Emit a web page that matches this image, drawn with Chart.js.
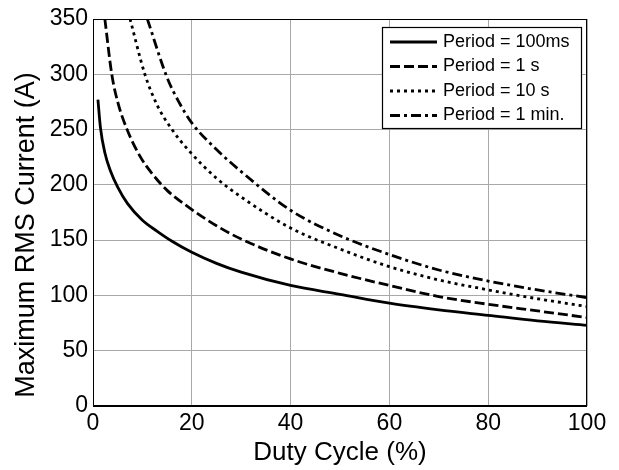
<!DOCTYPE html>
<html lang="en">
<head>
    <meta charset="UTF-8">
    <title>Maximum RMS Current vs Duty Cycle</title>
    <script src="https://cdn.jsdelivr.net/npm/chart.js"></script>
    <style>
        html, body { margin: 0; padding: 0; background: #fff; }
        #wrap { width: 619px; height: 470px; }
    </style>
</head>
<body>
    <div id="wrap"><canvas id="dutyChart"></canvas></div>

    <script>
        // values
        const seriesLabels = ['Period = 100ms', 'Period = 1 s', 'Period = 10 s', 'Period = 1 min.'];

        const duty100ms = [1, 1.5, 2.4, 3.5, 5, 7, 10, 13, 16, 20, 25, 30, 40, 50, 60, 70, 80, 90, 100];
        const current100ms = [277, 252, 229, 213, 198, 183, 168, 158, 149, 139, 129, 121, 109, 101, 93, 87, 82, 77, 73];

        const duty1s = [2.4, 3.8, 5, 6.9, 9.5, 12, 15, 19.6, 25, 30, 40, 50, 60, 70, 80, 90, 100];
        const current1s = [350, 300, 275, 250, 226, 210, 195, 179, 163, 151, 133, 120, 109, 99, 92, 86, 80];

        const duty10s = [7.5, 10.5, 13, 16, 19.6, 25, 30, 40, 50, 60, 70, 80, 90, 100];
        const current10s = [350, 300, 272, 250, 230, 206, 189, 161, 142, 126, 114, 105, 97, 90];

        const duty1min = [11, 15, 17.5, 20, 25, 30, 40, 50, 60, 70, 80, 90, 100];
        const current1min = [350, 297, 274, 256, 232, 212, 177, 154, 137, 123, 113, 105, 98];

        const xTicks = [0, 20, 40, 60, 80, 100];
        const yTicks = [0, 50, 100, 150, 200, 250, 300, 350];

        const FONT = "'Liberation Sans', Arial, sans-serif";

        function pairs(xs, ys) {
            return xs.map((x, i) => ({ x: x, y: ys[i] }));
        }

        function lineSet(label, xs, ys, dash) {
            return {
                label: label,
                data: pairs(xs, ys),
                borderColor: '#000',
                borderWidth: 2.8,
                borderDash: dash,
                pointRadius: 0,
                fill: false,
                cubicInterpolationMode: 'monotone'
            };
        }

        // black frame round the plot area
        const framePlugin = {
            id: 'frame',
            afterDatasetsDraw(chart) {
                const a = chart.chartArea, ctx = chart.ctx;
                ctx.save();
                ctx.strokeStyle = '#000';
                ctx.lineWidth = 1;
                ctx.strokeRect(a.left + 0.5, a.top + 0.5, a.right - a.left - 1, a.bottom - a.top);
                ctx.lineWidth = 2;
                ctx.beginPath();
                ctx.moveTo(a.left, a.bottom);
                ctx.lineTo(a.right, a.bottom);
                ctx.stroke();
                ctx.restore();
            }
        };

        // boxed legend in the top right corner, MATLAB style
        const boxLegend = {
            id: 'boxLegend',
            afterDraw(chart) {
                const ctx = chart.ctx;
                const a = chart.chartArea;
                const sets = chart.data.datasets;
                const right = a.right - 6, top = a.top + 8;
                const w = 199, rowH = 24.5, h = 101;
                const left = right - w;
                ctx.save();
                ctx.fillStyle = '#fff';
                ctx.fillRect(left, top, w, h);
                ctx.strokeStyle = '#000';
                ctx.lineWidth = 1.2;
                ctx.strokeRect(left + 0.5, top + 0.5, w, h);
                ctx.font = '18px ' + FONT;
                ctx.textBaseline = 'middle';
                sets.forEach((ds, i) => {
                    const y = top + 15 + i * rowH;
                    ctx.strokeStyle = ds.borderColor;
                    ctx.lineWidth = ds.borderWidth;
                    ctx.setLineDash(ds.borderDash || []);
                    ctx.beginPath();
                    ctx.moveTo(left + 8, y);
                    ctx.lineTo(left + 55, y);
                    ctx.stroke();
                    ctx.setLineDash([]);
                    ctx.fillStyle = '#000';
                    ctx.fillText(ds.label, left + 61, y);
                });
                ctx.restore();
            }
        };

        const ctx = document.getElementById('dutyChart').getContext('2d');
        const chart = new Chart(ctx, {
            type: 'line',
            data: {
                datasets: [
                    lineSet(seriesLabels[0], duty100ms, current100ms, []),
                    lineSet(seriesLabels[1], duty1s, current1s, [10, 4]),
                    lineSet(seriesLabels[2], duty10s, current10s, [3, 4]),
                    lineSet(seriesLabels[3], duty1min, current1min, [10, 4, 3, 4])
                ]
            },
            options: {
                responsive: true,
                maintainAspectRatio: false,
                animation: false,
                layout: { padding: { left: 0, right: 32, top: 19, bottom: 0 } },
                plugins: {
                    legend: { display: false },
                    tooltip: { enabled: false }
                },
                scales: {
                    x: {
                        type: 'linear',
                        min: 0,
                        max: 100,
                        afterBuildTicks: (s) => { s.ticks = xTicks.map(v => ({ value: v })); },
                        afterFit: (s) => { s.height = 64; },
                        ticks: { color: '#000', font: { family: FONT, size: 23 }, padding: 4, maxRotation: 0 },
                        grid: { color: '#a8a8a8', lineWidth: 1, drawTicks: false },
                        border: { display: false },
                        title: {
                            display: true,
                            text: 'Duty Cycle (%)',
                            color: '#000',
                            font: { family: FONT, size: 26 },
                            padding: { top: 0, bottom: 2 }
                        }
                    },
                    y: {
                        min: 0,
                        max: 350,
                        afterBuildTicks: (s) => { s.ticks = yTicks.map(v => ({ value: v })); },
                        afterFit: (s) => { s.width = 93; },
                        ticks: { color: '#000', font: { family: FONT, size: 23 }, padding: 5 },
                        grid: { color: '#a8a8a8', lineWidth: 1, drawTicks: false },
                        border: { display: false },
                        title: {
                            display: true,
                            // trailing spaces nudge the label down like in the original
                            text: 'Maximum RMS Current (A)      ',
                            color: '#000',
                            font: { family: FONT, size: 27 },
                            padding: { top: 10, bottom: 0 }
                        }
                    }
                }
            },
            plugins: [framePlugin, boxLegend]
        });
    </script>
</body>
</html>
